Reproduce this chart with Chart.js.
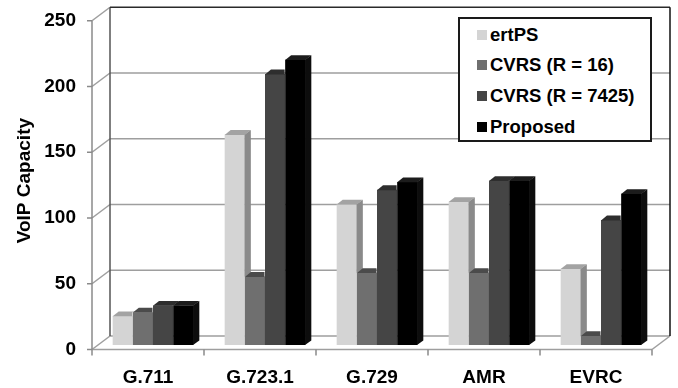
<!DOCTYPE html>
<html>
<head>
<meta charset="utf-8">
<script src="https://cdn.jsdelivr.net/npm/chart.js@4.4.1/dist/chart.umd.min.js"></script>
<style>
  html, body { margin: 0; padding: 0; background: #fff; }
  #wrap { position: relative; width: 678px; height: 388px; }
  #legend {
    position: absolute; left: 458px; top: 17px; width: 194px; height: 125px;
    box-sizing: border-box; border: 2px solid #1a1a1a; background: #fff;
    padding: 0 0 0 17px;
    font: bold 18.5px "Liberation Sans", Arial, sans-serif; color: #000;
  }
  #legend .item { display: flex; align-items: center; height: 30.6px; white-space: nowrap; }
  #legend .item:first-child { margin-top: 0.5px; }
  #legend .swatch { display: inline-block; flex: none; width: 10px; height: 10px; margin-right: 3px; }
</style>
</head>
<body>
<div id="wrap">
  <canvas id="chart" width="678" height="388"></canvas>
  <div id="legend"></div>
</div>
<script>
// Codecs along the horizontal axis
const categories = ['G.711', 'G.723.1', 'G.729', 'AMR', 'EVRC'];

// Series names
const seriesNames = ['ertPS', 'CVRS (R = 16)', 'CVRS (R = 7425)', 'Proposed'];

// VoIP capacity per codec, one array per scheme
const ertPS    = [22, 160, 107, 109, 58];
const cvrs16   = [25, 52, 55, 55, 7];
const cvrs7425 = [30, 206, 118, 125, 95];
const proposed = [30, 217, 124, 125, 115];

// Value-axis tick labels
const yTicks = [0, 50, 100, 150, 200, 250];

// Shading for the three visible faces of each column
const faceColors = [
  { front: '#d4d4d4', top: '#a3a3a3', side: '#8a8a8a' },
  { front: '#6f6f6f', top: '#4b4b4b', side: '#555555' },
  { front: '#454545', top: '#2e2e2e', side: '#2a2a2a' },
  { front: '#000000', top: '#1c1c1c', side: '#0d0d0d' }
];

// Perspective offsets relative to the plane the column fronts sit in
const FRONT = { dx: -5, dy: 4.5 };   // front edge of the floor
const BACK  = { dx: 13, dy: -9 };    // back wall
const BAR   = { dx: 6,  dy: 4.5 };   // depth of a column

const FONT = { family: '"Liberation Sans", Arial, sans-serif', size: 19, weight: 'bold' };

function line(ctx, x1, y1, x2, y2) {
  ctx.beginPath();
  ctx.moveTo(x1, y1);
  ctx.lineTo(x2, y2);
  ctx.stroke();
}

// Walls, floor and axis lines of the 3-D box
const boxPlugin = {
  id: 'box3d',
  beforeDatasetsDraw(chart) {
    const { ctx, chartArea: a, scales: { y } } = chart;
    const yMax = yTicks[yTicks.length - 1];
    const yF = v => y.getPixelForValue(v) + FRONT.dy;
    const yB = v => y.getPixelForValue(v) + BACK.dy;
    const fl = a.left + FRONT.dx, fr = a.right + FRONT.dx;
    const bl = a.left + BACK.dx,  br = a.right + BACK.dx;

    ctx.save();
    ctx.lineCap = 'butt';

    // gridlines on the back wall and the back edge of the floor
    ctx.strokeStyle = '#9e9e9e';
    ctx.lineWidth = 1.5;
    yTicks.slice(0, -1).forEach(v => line(ctx, bl, yB(v), br, yB(v)));

    // receding lines on the left side
    yTicks.forEach(v => line(ctx, fl, yF(v), bl, yB(v)));

    // front edge of the floor and its right-hand side
    line(ctx, fl, yF(0), fr, yF(0));
    line(ctx, fr, yF(0), br, yB(0));

    // front value axis with tick marks
    ctx.strokeStyle = '#8a8a8a';
    line(ctx, fl, yF(yMax), fl, yF(0));
    yTicks.forEach(v => line(ctx, fl - 5, yF(v), fl, yF(v)));

    // category separators below the floor
    const n = categories.length;
    const step = (a.right - a.left) / n;
    for (let i = 0; i <= n; i++) {
      const xx = fl + i * step;
      line(ctx, xx, yF(0), xx, yF(0) + 6);
    }

    // back wall outline
    ctx.strokeStyle = '#555';
    line(ctx, bl, yB(yMax), bl, yB(0));
    ctx.strokeStyle = '#2a2a2a';
    line(ctx, bl, yB(yMax), br, yB(yMax));
    ctx.strokeStyle = '#111';
    line(ctx, br, yB(yMax), br, yB(0));
    ctx.restore();
  },

  // tops and right-hand sides of the columns
  afterDatasetsDraw(chart) {
    const { ctx } = chart;
    const metas = chart.getSortedVisibleDatasetMetas()
      .slice().sort((m1, m2) => m1.index - m2.index);
    categories.forEach((_, j) => {
      const bars = metas.map(m => ({
        el: m.data[j].getProps(['x', 'y', 'base', 'width'], true),
        c: faceColors[m.index]
      })).sort((p, q) => p.el.x - q.el.x);

      bars.forEach((b, i) => {
        const { x, y, base, width } = b.el;
        const l = x - width / 2, r = x + width / 2;
        const next = bars[i + 1];
        ctx.save();
        if (next) {
          const n = next.el;
          ctx.beginPath();
          ctx.rect(0, 0, chart.width, chart.height);
          ctx.rect(n.x - n.width / 2 - 0.5, n.y, n.width + 1, n.base - n.y);
          ctx.clip('evenodd');
        }
        // side face
        ctx.fillStyle = b.c.side;
        ctx.beginPath();
        ctx.moveTo(r - 0.3, y);
        ctx.lineTo(r + BAR.dx, y - BAR.dy);
        ctx.lineTo(r + BAR.dx, base - BAR.dy);
        ctx.lineTo(r - 0.3, base);
        ctx.closePath();
        ctx.fill();
        // top face
        ctx.fillStyle = b.c.top;
        ctx.beginPath();
        ctx.moveTo(l, y + 0.3);
        ctx.lineTo(r, y + 0.3);
        ctx.lineTo(r + BAR.dx, y - BAR.dy);
        ctx.lineTo(l + BAR.dx, y - BAR.dy);
        ctx.closePath();
        ctx.fill();
        ctx.restore();
      });
    });
  }
};

const seriesData = [ertPS, cvrs16, cvrs7425, proposed];

const chart = new Chart(document.getElementById('chart'), {
  type: 'bar',
  data: {
    labels: categories,
    datasets: seriesNames.map((name, i) => ({
      label: name,
      data: seriesData[i],
      backgroundColor: faceColors[i].front,
      borderWidth: 0
    }))
  },
  options: {
    responsive: false,
    animation: false,
    events: [],
    layout: { padding: { top: 16.25, right: 21, bottom: 0, left: 0 } },
    datasets: { bar: { categoryPercentage: 0.72, barPercentage: 1 } },
    plugins: { legend: { display: false }, tooltip: { enabled: false } },
    scales: {
      x: {
        grid: { display: false, drawTicks: false },
        border: { display: false },
        ticks: { font: FONT, color: '#000', labelOffset: -5, padding: 21.5, maxRotation: 0 },
        afterFit(s) { s.height = 43; }
      },
      y: {
        min: 0,
        max: 250,
        grid: { display: false, drawTicks: false },
        border: { display: false },
        ticks: { stepSize: 50, font: FONT, color: '#000', padding: 21, labelOffset: 4.5 },
        title: { display: true, text: 'VoIP Capacity', font: FONT, color: '#000', padding: { top: 13.5, bottom: 0 } },
        afterFit(s) {
          s.width = 97;
          s.paddingTop = 0;
          s.paddingBottom = 0;
        }
      }
    }
  },
  plugins: [boxPlugin]
});

// Legend box built from the chart's own legend items
const legendEl = document.getElementById('legend');
chart.options.plugins.legend.labels.generateLabels(chart).forEach(item => {
  const row = document.createElement('div');
  row.className = 'item';
  const sw = document.createElement('span');
  sw.className = 'swatch';
  sw.style.background = item.fillStyle;
  row.appendChild(sw);
  row.appendChild(document.createTextNode(item.text));
  legendEl.appendChild(row);
});
</script>
</body>
</html>
